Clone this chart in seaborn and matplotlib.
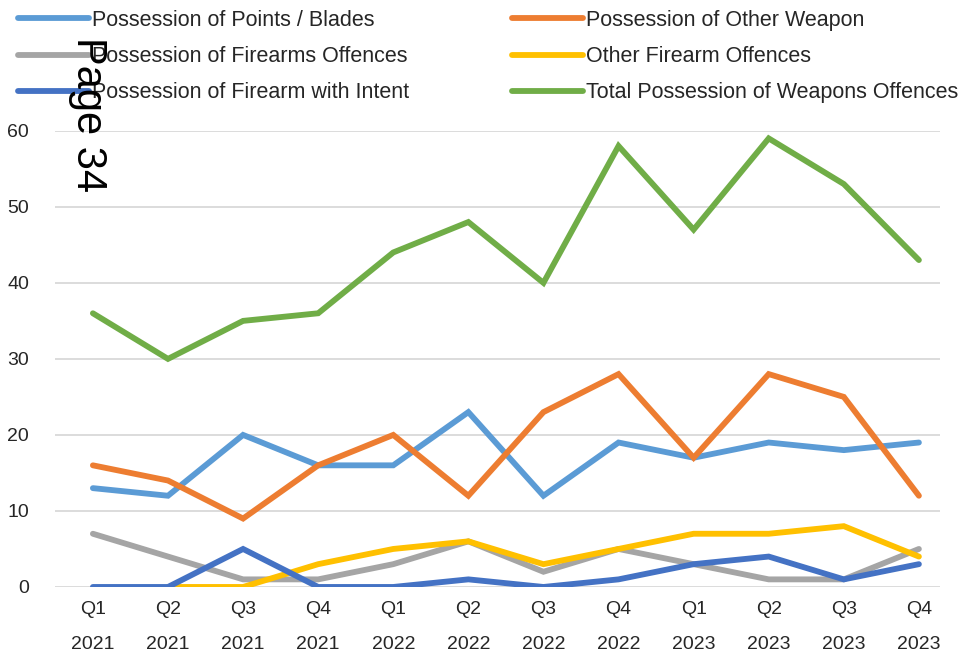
import numpy as np
import pandas as pd
import matplotlib
matplotlib.use("Agg")
import matplotlib.pyplot as plt
import seaborn as sns

quarters = ["Q1\n2021", "Q2\n2021", "Q3\n2021", "Q4\n2021",
            "Q1\n2022", "Q2\n2022", "Q3\n2022", "Q4\n2022",
            "Q1\n2023", "Q2\n2023", "Q3\n2023", "Q4\n2023"]

points_blades = [13, 12, 20, 16, 16, 23, 12, 19, 17, 19, 18, 19]
other_weapon = [16, 14, 9, 16, 20, 12, 23, 28, 17, 28, 25, 12]
firearms_offences = [7, 4, 1, 1, 3, 6, 2, 5, 3, 1, 1, 5]
other_firearm = [np.nan, 0, 0, 3, 5, 6, 3, 5, 7, 7, 8, 4]
firearm_intent = [0, 0, 5, 0, 0, 1, 0, 1, 3, 4, 1, 3]
total_weapons = [36, 30, 35, 36, 44, 48, 40, 58, 47, 59, 53, 43]

series = [
    ("Possession of Points / Blades", points_blades, "#5B9BD5"),
    ("Possession of Other Weapon", other_weapon, "#ED7D31"),
    ("Possession of Firearms Offences", firearms_offences, "#A5A5A5"),
    ("Other Firearm Offences", other_firearm, "#FFC000"),
    ("Possession of Firearm with Intent", firearm_intent, "#4472C4"),
    ("Total Possession of Weapons Offences", total_weapons, "#70AD47"),
]

sns.set_style("white")
plt.rcParams['font.family'] = ['Liberation Sans', 'DejaVu Sans']

fig = plt.figure(figsize=(9.71, 6.64), dpi=100)
ax = fig.add_axes([0.057, 0.116, 0.911, 0.687])

x = np.arange(len(quarters))
for name, vals, col in series:
    df = pd.DataFrame({"x": x, "y": vals})
    sns.lineplot(data=df, x="x", y="y", ax=ax, color=col, linewidth=3.6,
                 solid_capstyle="round", solid_joinstyle="miter", label=name)

ax.set_xlim(-0.5, 11.28)
ax.set_ylim(0, 60)
ax.set_yticks(range(0, 61, 10))
ax.set_xticks(x)
ax.set_xticklabels(quarters, fontsize=14, linespacing=2.4)
ax.tick_params(axis="y", labelsize=14, pad=19, length=0)
ax.tick_params(axis="x", length=0, pad=10)
ax.set_xlabel("")
ax.set_ylabel("")
ax.grid(axis="y", color="#D9D9D9", linewidth=1.3)
ax.set_axisbelow(True)
for s in ax.spines.values():
    s.set_visible(False)

h, l = ax.get_legend_handles_labels()
order = [0, 2, 4, 1, 3, 5]
for hh in h:
    hh.set_linewidth(4.2)
ax.legend([h[i] for i in order], [l[i] for i in order], ncol=2,
          loc="upper left", bbox_to_anchor=(-0.052, 1.284), frameon=False,
          fontsize=15.5, handlelength=3.3, handletextpad=0.15,
          columnspacing=4.75, labelspacing=0.71, borderaxespad=0)

fig.text(0.091, 0.945, "Page 34", rotation=270, fontsize=30,
         ha="center", va="top", color="black",
         family=['Liberation Sans', 'DejaVu Sans'])

fig.savefig("out.png", dpi=100)
